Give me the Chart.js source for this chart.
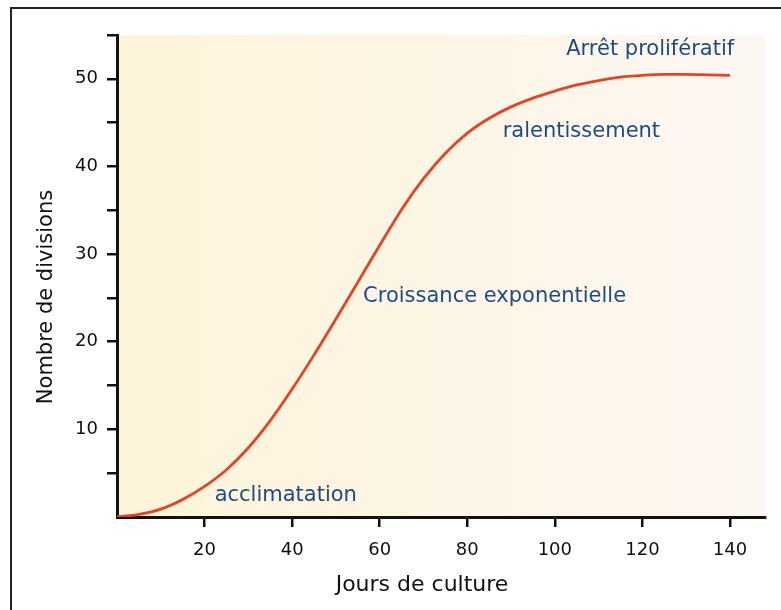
<!DOCTYPE html>
<html>
<head>
<meta charset="utf-8">
<script src="https://cdn.jsdelivr.net/npm/chart.js@4/dist/chart.umd.min.js"></script>
<style>
  html, body { margin: 0; padding: 0; background: #fff; }
  #wrap { width: 781px; height: 610px; }
</style>
</head>
<body>
<div id="wrap"><canvas id="growthChart" width="781" height="610"></canvas></div>
<script>
// Culture growth curve (days vs number of divisions)

const days = [0, 5, 10, 15, 20, 25, 30, 35, 40, 45, 50, 55, 60, 65, 70, 75, 80, 85, 90, 95, 100, 105, 110, 115, 120, 125, 130, 135, 140];
const divisions = [0, 0.3, 0.9, 2.0, 3.5, 5.4, 7.9, 11.0, 14.6, 18.5, 22.6, 26.8, 31.0, 35.1, 38.6, 41.5, 43.8, 45.5, 46.8, 47.8, 48.6, 49.3, 49.8, 50.2, 50.4, 50.5, 50.5, 50.45, 50.4];

const xTickValues = [20, 40, 60, 80, 100, 120, 140];
const yTickValues = [5, 10, 15, 20, 25, 30, 35, 40, 45, 50, 55];
const yLabelledTicks = [10, 20, 30, 40, 50];

const xTitle = 'Jours de culture';
const yTitle = 'Nombre de divisions';

// phase labels and where they sit (data units, left edge of text)
const phaseNames = ['acclimatation', 'Croissance exponentielle', 'ralentissement', 'Arrêt prolifératif'];
const phaseDays = [22.3, 56.2, 88.1, 102.6];
const phaseLevels = [2.4, 25.1, 44.0, 53.3];

const FONT = "'DejaVu Sans', sans-serif";
const INK = '#111';

// white page + thin frame + gradient behind the plot
const backdrop = {
  id: 'backdrop',
  beforeDraw(chart) {
    const { ctx, chartArea: a } = chart;
    ctx.save();
    ctx.fillStyle = '#fff';
    ctx.fillRect(0, 0, chart.width, chart.height);

    ctx.strokeStyle = '#222';
    ctx.lineWidth = 2;
    ctx.beginPath();
    ctx.moveTo(11, chart.height);
    ctx.lineTo(11, 8);
    ctx.lineTo(chart.width, 8);
    ctx.stroke();

    const g = ctx.createLinearGradient(a.left, 0, a.right, 0);
    g.addColorStop(0, '#fdf4d9');
    g.addColorStop(1, '#fdf7f2');
    ctx.fillStyle = g;
    ctx.fillRect(a.left, a.top, a.right - a.left, a.bottom - a.top);
    ctx.restore();
  }
};

// axis titles + phase names
const labels = {
  id: 'labels',
  afterDatasetsDraw(chart) {
    const { ctx, scales } = chart;
    ctx.save();
    ctx.textBaseline = 'middle';

    ctx.fillStyle = INK;
    ctx.textAlign = 'center';
    ctx.font = '22px ' + FONT;
    ctx.fillText(xTitle, 422, 585);
    ctx.save();
    ctx.translate(47, 297);
    ctx.rotate(-Math.PI / 2);
    ctx.font = '21px ' + FONT;
    ctx.fillText(yTitle, 0, 0);
    ctx.restore();

    ctx.font = '21px ' + FONT;
    ctx.fillStyle = '#1b4c88';
    ctx.textAlign = 'left';
    phaseNames.forEach((name, i) => {
      ctx.fillText(name, scales.x.getPixelForValue(phaseDays[i]), scales.y.getPixelForValue(phaseLevels[i]));
    });
    ctx.restore();
  }
};

new Chart(document.getElementById('growthChart'), {
  type: 'line',
  data: {
    datasets: [{
      data: days.map((d, i) => ({ x: d, y: divisions[i] })),
      borderColor: '#e8421e',
      borderWidth: 2.8,
      pointRadius: 0,
      fill: false,
      cubicInterpolationMode: 'monotone'
    }]
  },
  options: {
    responsive: false,
    animation: false,
    layout: { padding: { left: 29, top: 35, right: 16, bottom: 9 } },
    plugins: {
      legend: { display: false },
      tooltip: { enabled: false }
    },
    scales: {
      x: {
        type: 'linear',
        min: 0,
        max: 148,
        afterBuildTicks: s => { s.ticks = xTickValues.map(v => ({ value: v })); },
        afterFit: s => { s.height = 610 - 517 - 9; },
        border: { display: true, color: INK, width: 3 },
        grid: { drawOnChartArea: false, drawTicks: true, tickLength: 10, color: INK, lineWidth: 2.5 },
        ticks: { color: INK, padding: 13, font: { family: FONT, size: 18 }, maxRotation: 0 },
        title: { display: false }
      },
      y: {
        min: 0,
        max: 55,
        afterBuildTicks: s => { s.ticks = yTickValues.map(v => ({ value: v })); },
        afterFit: s => { s.width = 117 - 29; },
        border: { display: true, color: INK, width: 3 },
        grid: { drawOnChartArea: false, drawTicks: true, tickLength: 10, color: INK, lineWidth: 2.5 },
        ticks: {
          color: INK,
          padding: 9,
          font: { family: FONT, size: 18 },
          callback: v => yLabelledTicks.includes(v) ? String(v) : ''
        },
        title: { display: false }
      }
    }
  },
  plugins: [backdrop, labels]
});
</script>
</body>
</html>
